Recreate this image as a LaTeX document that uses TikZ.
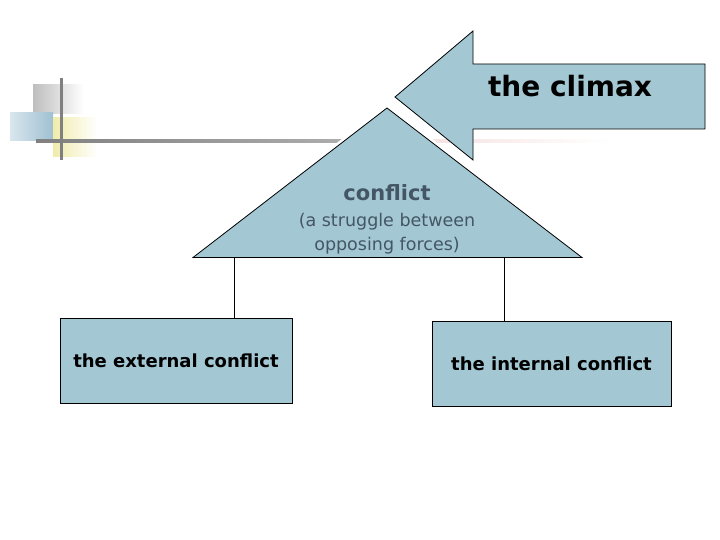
\documentclass[tikz,border=0pt]{standalone}
\usepackage{fontspec}
\setmainfont{DejaVu Sans}
\definecolor{boxblue}{RGB}{163,200,211}
\definecolor{txtgray}{RGB}{68,86,102}
\definecolor{decogray}{RGB}{190,190,190}
\definecolor{decoblue}{RGB}{160,192,210}
\definecolor{decoyellow}{RGB}{240,236,170}
\definecolor{linegray}{RGB}{128,128,128}
\definecolor{linelight}{RGB}{175,175,175}
\definecolor{linepink}{RGB}{245,225,225}
\tikzset{
  shapefill/.style={fill=boxblue, draw=black, line width=0.8pt},
  leafbox/.style={shapefill, minimum width=#1, minimum height=85pt, inner sep=0pt, font=\bfseries\fontsize{18}{20}\selectfont},
  lbl/.style={anchor=base, inner sep=0pt, text=txtgray},
  conn/.style={draw=black, line width=0.6pt}
}
\begin{document}
\begin{tikzpicture}[x=1pt,y=-1pt]
\useasboundingbox (0,0) rectangle (720,540);
% decoration top-left
\shade[left color=decogray, right color=white] (33,85) rectangle (84,114);
\shade[left color=white!60!decoblue, right color=decoblue] (10,113) rectangle (53,141);
\shade[left color=decoyellow, right color=white] (53,118) rectangle (97,157);
\shade[left color=linegray, right color=linelight] (36,139.5) rectangle (360,142.5);
\shade[left color=linepink, right color=white] (420,139.5) rectangle (610,142.5);
\fill[linegray] (59.5,78) rectangle (62.5,160);
% arrow
\coordinate (atip) at (395,97);
\draw[shapefill] (atip) -- (473,31) -- (473,64) -- (705,64) -- (705,129) -- (473,129) -- (473,160) -- cycle;
\node[anchor=base, inner sep=0pt, font=\bfseries\fontsize{28}{30}\selectfont] (climax) at (570,97) {the climax};
% triangle
\coordinate (apex) at (387,108);
\coordinate (bl) at (193,257.5);
\coordinate (br) at (582,257.5);
\draw[white, line width=6pt, line join=round] (apex) -- (bl) -- (br) -- cycle;
\draw[shapefill] (apex) -- (bl) -- (br) -- cycle;
\node[lbl, font=\bfseries\fontsize{21}{23}\selectfont] (conf) at (387,201) {conflict};
\node[lbl, font=\fontsize{17.5}{20}\selectfont] (conf2) at (387,226) {(a struggle between};
\node[lbl, font=\fontsize{17.5}{20}\selectfont] (conf3) at (387,250) {opposing forces)};
% leaves
\node[leafbox=232pt] (ext) at (176,360.5) {the external conflict};
\node[leafbox=239pt] (int) at (551.5,363.5) {the internal conflict};
\coordinate (c1) at (234,257.5);
\coordinate (c2) at (504,257.5);
\draw[conn] (c1) -- (c1 |- ext.north);
\draw[conn] (c2) -- (c2 |- int.north);
\end{tikzpicture}
\end{document}
